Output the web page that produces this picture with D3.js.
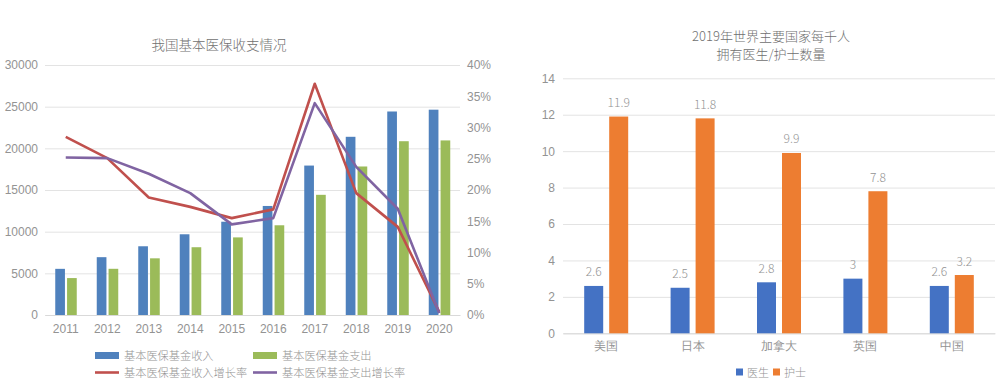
<!DOCTYPE html>
<html><head><meta charset="utf-8">
<script src="https://cdn.jsdelivr.net/npm/d3@7"></script>
<style>
html,body{margin:0;padding:0;background:#fff;}
svg{display:block;font-family:"Noto Sans CJK SC","Noto Sans",sans-serif;font-weight:300;}
</style></head><body>
<svg id="c" width="1000" height="392"></svg>
<script>
// ---- Left chart data ----
const years = ["2011","2012","2013","2014","2015","2016","2017","2018","2019","2020"];
const income = [5539,6939,8248,9687,11193,13084,17932,21384,24421,24638];
const expense = [4431,5544,6801,8133,9312,10767,14422,17822,20854,20949];
const incomeGrowth = [0.285,0.251,0.188,0.173,0.155,0.169,0.370,0.195,0.141,0.005];
const expenseGrowth = [0.252,0.251,0.226,0.195,0.145,0.155,0.339,0.237,0.170,0.003];
const leftTicks = [0,5000,10000,15000,20000,25000,30000];
const rightTicks = [0,0.05,0.10,0.15,0.20,0.25,0.30,0.35,0.40];
const leftTitle = "我国基本医保收支情况";
const leftLegend = ["基本医保基金收入","基本医保基金支出","基本医保基金收入增长率","基本医保基金支出增长率"];

// ---- Right chart data ----
const countries = ["美国","日本","加拿大","英国","中国"];
const doctors = [2.6,2.5,2.8,3,2.6];
const nurses = [11.9,11.8,9.9,7.8,3.2];
const rightYTicks = [0,2,4,6,8,10,12,14];
const rightTitle = ["2019年世界主要国家每千人","拥有医生/护士数量"];
const rightLegend = ["医生","护士"];

const txt = "#939393", grid = "#e3e3e3", ttl = "#707070";
const svg = d3.select("#c");

// ================= LEFT =================
{
  const L = 45, R = 460, T = 65, B = 315;
  const x = d3.scaleBand().domain(years).range([L, R]);
  const yL = d3.scaleLinear().domain([0,30000]).range([B, T]);
  const yR = d3.scaleLinear().domain([0,0.4]).range([B, T]);
  const sub = d3.scaleBand().domain(["in","out"]).range([-10.5, 11]).paddingInner(0.18);
  const g = svg.append("g");

  g.append("text").attr("x", 219).attr("y", 50).attr("text-anchor","middle")
    .attr("font-size", 13.5).attr("fill", ttl).text(leftTitle);

  const ax = g.append("g").attr("transform", `translate(${L},0)`)
    .call(d3.axisLeft(yL).tickValues(leftTicks).tickSize(-(R-L)).tickPadding(7).tickFormat(d3.format("d")));
  ax.select(".domain").remove();
  ax.selectAll("line").attr("stroke", grid);
  ax.selectAll("text").attr("fill", txt).attr("font-size", 12).attr("font-family","inherit");

  const axr = g.append("g").attr("transform", `translate(${R},0)`)
    .call(d3.axisRight(yR).tickValues(rightTicks).tickSize(0).tickPadding(7).tickFormat(d3.format(".0%")));
  axr.select(".domain").remove();
  axr.selectAll("text").attr("fill", txt).attr("font-size", 12).attr("font-family","inherit");

  const axb = g.append("g").attr("transform", `translate(0,${B})`)
    .call(d3.axisBottom(x).tickSize(0).tickPadding(9));
  axb.select(".domain").attr("stroke", "#d9d9d9");
  axb.selectAll("text").attr("fill", txt).attr("font-size", 12).attr("font-family","inherit");

  g.selectAll(".bi").data(years).enter().append("rect")
    .attr("x", (d)=> x(d) + x.bandwidth()/2 + sub("in"))
    .attr("width", sub.bandwidth())
    .attr("y", (d,i)=> yL(income[i])).attr("height", (d,i)=> B - yL(income[i]))
    .attr("fill", "#4F81BD");
  g.selectAll(".bo").data(years).enter().append("rect")
    .attr("x", (d)=> x(d) + x.bandwidth()/2 + sub("out"))
    .attr("width", sub.bandwidth())
    .attr("y", (d,i)=> yL(expense[i])).attr("height", (d,i)=> B - yL(expense[i]))
    .attr("fill", "#9BBB59");

  const line = d3.line().x((d,i)=> x(years[i]) + x.bandwidth()/2).y(d=> yR(d));
  g.append("path").attr("d", line(incomeGrowth)).attr("fill","none")
    .attr("stroke","#C0504D").attr("stroke-width",2.6).attr("stroke-linejoin","round");
  g.append("path").attr("d", line(expenseGrowth)).attr("fill","none")
    .attr("stroke","#8064A2").attr("stroke-width",2.6).attr("stroke-linejoin","round");

  // legend
  const lg = g.append("g").attr("font-size", 11.2).attr("fill", txt);
  const pos = [[95,355.5],[253,355.5],[95,372.5],[253,372.5]];
  const cols = ["#4F81BD","#9BBB59","#C0504D","#8064A2"];
  leftLegend.forEach((t,i)=>{
    const [px,py] = pos[i];
    if (i < 2) lg.append("rect").attr("x",px).attr("y",py-3.5).attr("width",24).attr("height",7).attr("fill",cols[i]);
    else lg.append("line").attr("x1",px).attr("x2",px+24).attr("y1",py).attr("y2",py).attr("stroke",cols[i]).attr("stroke-width",2.6);
    lg.append("text").attr("x",px+29).attr("y",py+4).attr("fill",txt).text(t);
  });
}

// ================= RIGHT =================
{
  const L = 563, R = 995, T = 78.3, B = 333.3;
  const x = d3.scaleBand().domain(countries).range([L, R]);
  const y = d3.scaleLinear().domain([0,14]).range([B, T]);
  const sub = d3.scaleBand().domain(["d","n"]).range([-22, 22]).paddingInner(0.24);
  const g = svg.append("g");

  rightTitle.forEach((t,i)=>{
    g.append("text").attr("x", 771).attr("y", 40.5 + i*18.5).attr("text-anchor","middle")
      .attr("font-size", 13).attr("fill",ttl).text(t);
  });

  const ax = g.append("g").attr("transform", `translate(${L},0)`)
    .call(d3.axisLeft(y).tickValues(rightYTicks).tickSize(-(R-L)).tickPadding(8));
  ax.select(".domain").remove();
  ax.selectAll("line").attr("stroke", grid);
  ax.selectAll("text").attr("fill", txt).attr("font-size", 12).attr("font-family","inherit");

  const axb = g.append("g").attr("transform", `translate(0,${B})`)
    .call(d3.axisBottom(x).tickSize(0).tickPadding(9));
  axb.select(".domain").attr("stroke", "#d9d9d9");
  axb.selectAll("text").attr("fill", txt).attr("font-size", 11.5).attr("font-family","inherit");

  const series = [["d", doctors, "#4472C4"], ["n", nurses, "#ED7D31"]];
  series.forEach(([k, vals, col])=>{
    g.selectAll(".b"+k).data(countries).enter().append("rect")
      .attr("x", d=> x(d) + x.bandwidth()/2 + sub(k)).attr("width", sub.bandwidth())
      .attr("y", (d,i)=> y(vals[i])).attr("height", (d,i)=> B - y(vals[i]))
      .attr("fill", col);
    g.selectAll(".l"+k).data(countries).enter().append("text")
      .attr("x", d=> x(d) + x.bandwidth()/2 + sub(k) + sub.bandwidth()/2)
      .attr("y", (d,i)=> y(vals[i]) - 9.5)
      .attr("text-anchor","middle").attr("font-size", 12).attr("fill", txt)
      .text((d,i)=> vals[i]);
  });

  const lg = g.append("g");
  const lcols = ["#4472C4","#ED7D31"];
  const lx = [736, 773];
  rightLegend.forEach((t,i)=>{
    lg.append("rect").attr("x", lx[i]).attr("y", 368.5).attr("width", 7).attr("height", 7).attr("fill", lcols[i]);
    lg.append("text").attr("x", lx[i]+11).attr("y", 376.5).attr("font-size", 11).attr("fill", txt).text(t);
  });
}
</script>
</body></html>
